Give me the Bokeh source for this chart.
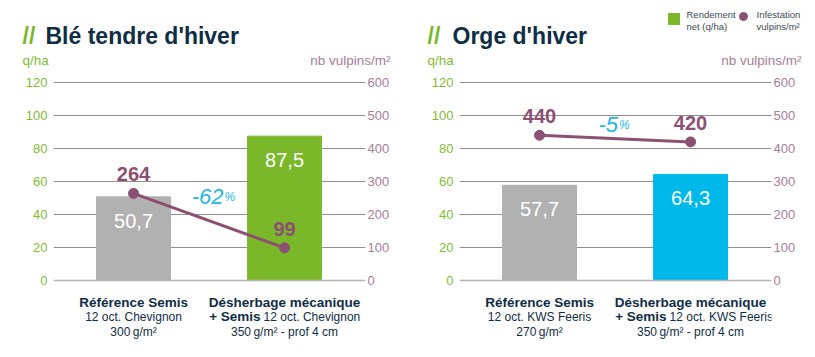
from bokeh.plotting import figure
from bokeh.models import (Range1d, LinearAxis, FixedTicker, Grid, Span, ColumnDataSource)
from bokeh.layouts import row, column
from bokeh.core.properties import value
from bokeh.embed import file_html
from bokeh.resources import INLINE

# ---------------- data ----------------
categories = ["Référence Semis", "Désherbage mécanique"]
ble_rendement = [50.7, 87.5]
ble_vulpins = [264, 99]
orge_rendement = [57.7, 64.3]
orge_vulpins = [440, 420]
ble_reduction = "-62"
orge_reduction = "-5"
ble_sub = ["12 oct. Chevignon", "12 oct. Chevignon"]
orge_sub = ["12 oct. KWS Feeris", "12 oct. KWS Feeris"]
ble_dose = ["300\u2009g/m²", "350\u2009g/m² - prof 4 cm"]
orge_dose = ["270\u2009g/m²", "350\u2009g/m² - prof 4 cm"]
yield_ticks = [0, 20, 40, 60, 80, 100, 120]
vulpin_ticks = [0, 100, 200, 300, 400, 500, 600]
titles = ["Blé tendre d'hiver", "Orge d'hiver"]
legend_labels = ["Rendement\nnet (q/ha)", "Infestation\nvulpins/m²"]

FONT = "Liberation Sans"
NAVY = "#0f2d45"
GREEN = "#7ab82a"
GREEN_TXT = "#82bb34"
GRAY = "#b1b1b1"
BLUE = "#00b9eb"
PURPLE = "#8b5072"
MAUVE_TXT = "#a57e94"
CYAN = "#1bb7ea"
GRID = "#8e8e8e"

W = 815
HEAD_H = 72
CH_H = 357 - HEAD_H
PX_PER_UNIT = 1.65
Y_ZERO_PX = 280 - HEAD_H
TOP_PX = 82 - HEAD_H


def make_chart(rendement, vulpins, bar_colors, reduction, red_dx, red_dy,
               subs, doses, width, left):
    frame_w = 312
    p = figure(width=width, height=CH_H, output_backend="svg", toolbar_location=None,
               title=None, x_axis_type=None, y_axis_type=None,
               min_border_left=left, min_border_right=width - left - frame_w,
               min_border_top=0, min_border_bottom=0)
    p.outline_line_color = None
    p.background_fill_color = "white"
    p.border_fill_color = "white"
    p.x_range = Range1d(-0.53, 1.536)
    y0 = -(CH_H - Y_ZERO_PX) / PX_PER_UNIT
    y1 = 120 + TOP_PX / PX_PER_UNIT
    p.y_range = Range1d(y0, y1)
    p.extra_y_ranges = {"vulp": Range1d(y0 * 5, y1 * 5)}

    la = LinearAxis(ticker=FixedTicker(ticks=yield_ticks))
    ra = LinearAxis(ticker=FixedTicker(ticks=vulpin_ticks), y_range_name="vulp")
    for ax, col, so in ((la, GREEN_TXT, 6), (ra, MAUVE_TXT, 2)):
        ax.axis_line_color = None
        ax.major_tick_line_color = None
        ax.minor_tick_line_color = None
        ax.major_tick_out = 0
        ax.major_tick_in = 0
        ax.major_label_standoff = so
        ax.major_label_text_color = col
        ax.major_label_text_font = FONT
        ax.major_label_text_font_size = "13px"
    p.add_layout(la, "left")
    p.add_layout(ra, "right")
    p.add_layout(Grid(dimension=1, ticker=FixedTicker(ticks=yield_ticks[1:]),
                      grid_line_color=GRID, grid_line_width=1))

    xs = list(range(len(categories)))
    src = ColumnDataSource(dict(
        x=xs, r=rendement, v=vulpins, c=bar_colors,
        rl=[f"{t:.1f}".replace(".", ",") for t in rendement],
        vl=[str(t) for t in vulpins],
        cat=categories, sub=subs, dose=doses))
    p.vbar(x="x", top="r", width=0.49, color="c", source=src)
    p.add_layout(Span(location=0, dimension="width", line_color="#b3b3b3", line_width=1.5))

    p.text(x="x", y="r", text="rl", source=src, text_color="white",
           text_font=value(FONT), text_font_size="20px", text_align="center",
           text_baseline="middle", y_offset=24)

    p.line(x="x", y="v", source=src, line_color=PURPLE, line_width=3, y_range_name="vulp")
    p.scatter(x="x", y="v", source=src, size=10, color=PURPLE, y_range_name="vulp")
    p.text(x="x", y="v", text="vl", source=src, text_color=PURPLE,
           text_font=value(FONT), text_font_size="20px", text_font_style="bold",
           text_align="center", text_baseline="middle", y_offset=-19, y_range_name="vulp")

    mid = (vulpins[0] + vulpins[1]) / 2
    p.text(x=[0.5], y=[mid], text=[reduction], text_color=CYAN, text_font=value(FONT),
           text_font_size="22px", text_font_style="italic", text_align="right",
           text_baseline="middle", x_offset=red_dx, y_offset=red_dy, y_range_name="vulp")
    p.text(x=[0.5], y=[mid], text=["%"], text_color=CYAN, text_font=value(FONT),
           text_font_size="12px", text_font_style="italic", text_align="left",
           text_baseline="top", x_offset=red_dx + 1, y_offset=red_dy - 7, y_range_name="vulp")

    # category labels
    p.text(x="x", y=0, text="cat", source=src, text_color=NAVY, text_font=value(FONT),
           text_font_size="13.5px", text_font_style="bold", text_align="center",
           text_baseline="middle", y_offset=22)
    p.text(x=[0], y=[0], text=[subs[0]], text_color=NAVY, text_font=value(FONT),
           text_font_size="12px", text_align="center", text_baseline="middle", y_offset=36)
    p.text(x=[1], y=[0], text=["+ Semis"], text_color=NAVY, text_font=value(FONT),
           text_font_size="13.5px", text_font_style="bold", text_align="right",
           text_baseline="middle", y_offset=36, x_offset=-24)
    p.text(x=[1], y=[0], text=[subs[1]], text_color=NAVY, text_font=value(FONT),
           text_font_size="12px", text_align="left", text_baseline="middle",
           y_offset=36, x_offset=-21)
    p.text(x="x", y=0, text="dose", source=src, text_color=NAVY, text_font=value(FONT),
           text_font_size="12px", text_align="center", text_baseline="middle", y_offset=51)
    return p


# ---------------- header (titles, axis titles, legend); coordinates = pixels ----------------
head = figure(width=W, height=HEAD_H, output_backend="svg", toolbar_location=None,
              title=None, x_axis_type=None, y_axis_type=None,
              min_border_left=0, min_border_right=0, min_border_top=0, min_border_bottom=0,
              x_range=Range1d(0, W), y_range=Range1d(HEAD_H, 0))
head.outline_line_color = None
head.grid.visible = False
head.background_fill_color = "white"
head.border_fill_color = "white"

title_x = [22, 427]
head.text(x=title_x, y=[35, 35], text=["//", "//"], text_color=GREEN,
          text_font=value(FONT), text_font_size="23px", text_font_style="bold",
          text_baseline="alphabetic")
head.text(x=[45, 452], y=[35, 35], text=titles, text_color=NAVY,
          text_font=value(FONT), text_font_size="23px", text_font_style="bold",
          text_baseline="alphabetic")
head.text(x=title_x, y=[60, 60], text=["q/ha", "q/ha"], text_color=GREEN_TXT,
          text_font=value(FONT), text_font_size="13.5px", text_baseline="middle")
head.text(x=[390, 801], y=[60, 60], text=["nb vulpins/m²", "nb vulpins/m²"],
          text_color=MAUVE_TXT, text_font=value(FONT), text_font_size="13.5px",
          text_baseline="middle", text_align="right")
# legend
head.scatter(x=[673.5], y=[18.5], marker="square", size=11, color=GREEN)
head.scatter(x=[743], y=[16], marker="circle", size=8, color=PURPLE)
head.text(x=[686, 756], y=[20, 20], text=legend_labels, text_color="#3c4b57",
          text_font=value(FONT), text_font_size="9.5px", text_baseline="middle",
          text_line_height=1.15)

p1 = make_chart(ble_rendement, ble_vulpins, [GRAY, GREEN],
                ble_reduction, 14.5, -24, ble_sub, ble_dose, width=400, left=53)
p2 = make_chart(orge_rendement, orge_vulpins, [GRAY, BLUE],
                orge_reduction, 3, -14, orge_sub, orge_dose, width=415, left=59)

layout = column(head, row(p1, p2))
open("out.html", "w").write(file_html(layout, INLINE))
